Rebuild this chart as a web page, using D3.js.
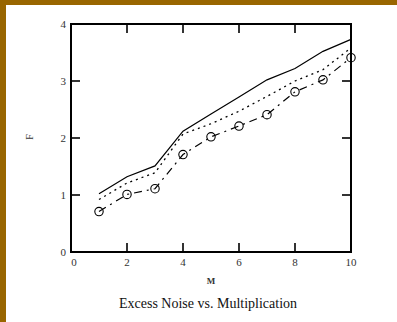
<!doctype html>
<html>
  <head>
    <meta charset="utf-8">
    <title>Excess Noise vs. Multiplication</title>
    <script src="https://cdnjs.cloudflare.com/ajax/libs/d3/7.8.5/d3.min.js"></script>
    <style>
      html, body { margin: 0; padding: 0; background: #fff; }
      svg { display: block; font-family: "Liberation Serif", "Times New Roman", serif; }
    </style>
  </head>
  <body>
    <div id="chart"></div>
    <script>
      // values
      const M = [1, 2, 3, 4, 5, 6, 7, 8, 9, 10];
      const solidF = [1.02, 1.32, 1.51, 2.12, 2.42, 2.72, 3.02, 3.22, 3.52, 3.73];
      const dottedF = [0.92, 1.21, 1.39, 2.07, 2.25, 2.47, 2.73, 3.0, 3.2, 3.58];
      const circleF = [0.71, 1.01, 1.11, 1.71, 2.02, 2.21, 2.41, 2.81, 3.02, 3.41];
      const xTicks = [0, 2, 4, 6, 8, 10];
      const yTicks = [0, 1, 2, 3, 4];

      const W = 397, H = 322;
      const svg = d3.select('#chart').append('svg')
        .attr('width', W)
        .attr('height', H);

      // brown border on top and left
      svg.append('rect').attr('x', 0).attr('y', 0).attr('width', W).attr('height', 5).attr('fill', '#996600');
      svg.append('rect').attr('x', 0).attr('y', 0).attr('width', 6).attr('height', H).attr('fill', '#996600');

      const x = d3.scaleLinear().domain([0, 10]).range([71, 351]);
      const y = d3.scaleLinear().domain([0, 4]).range([252, 24]);

      // inner ticks on all four sides
      const tickLen = 9;
      const ticks = svg.append('g').attr('stroke', '#333').attr('stroke-width', 2);
      xTicks.slice(1, -1).forEach(v => {
        ticks.append('line').attr('x1', x(v)).attr('x2', x(v)).attr('y1', y(0)).attr('y2', y(0) - tickLen);
        ticks.append('line').attr('x1', x(v)).attr('x2', x(v)).attr('y1', y(4)).attr('y2', y(4) + tickLen);
      });
      yTicks.slice(1, -1).forEach(v => {
        ticks.append('line').attr('x1', x(0)).attr('x2', x(0) + tickLen).attr('y1', y(v)).attr('y2', y(v));
        ticks.append('line').attr('x1', x(10)).attr('x2', x(10) - tickLen).attr('y1', y(v)).attr('y2', y(v));
      });

      // frame
      svg.append('rect')
        .attr('x', x(0)).attr('y', y(4))
        .attr('width', x(10) - x(0)).attr('height', y(0) - y(4))
        .attr('fill', 'none').attr('stroke', '#000').attr('stroke-width', 2);

      // tick labels
      svg.append('g').selectAll('text').data(xTicks).join('text')
        .attr('x', d => x(d) + (d === 0 ? 3 : 0))
        .attr('y', 266)
        .attr('text-anchor', 'middle')
        .attr('font-size', 11)
        .attr('fill', '#333')
        .text(d => d);
      svg.append('g').selectAll('text').data(yTicks).join('text')
        .attr('x', 66)
        .attr('y', d => y(d) + 4)
        .attr('text-anchor', 'end')
        .attr('font-size', 11)
        .attr('fill', '#333')
        .text(d => d);

      // axis titles
      svg.append('text')
        .attr('transform', 'translate(33,137) rotate(-90)')
        .attr('text-anchor', 'middle')
        .attr('font-size', 10)
        .attr('fill', '#333')
        .text('F');
      svg.append('text')
        .attr('x', 211).attr('y', 284)
        .attr('text-anchor', 'middle')
        .attr('font-size', 9)
        .attr('font-weight', 'bold')
        .attr('fill', '#333')
        .text('M');

      svg.append('text')
        .attr('x', 208).attr('y', 308)
        .attr('text-anchor', 'middle')
        .attr('font-size', 14)
        .attr('fill', '#111')
        .text('Excess Noise vs. Multiplication');

      // series
      const line = d3.line().x((d, i) => x(M[i])).y(d => y(d));
      svg.append('path').datum(solidF)
        .attr('d', line).attr('fill', 'none').attr('stroke', '#000').attr('stroke-width', 1.2);
      svg.append('path').datum(dottedF)
        .attr('d', line).attr('fill', 'none').attr('stroke', '#000').attr('stroke-width', 1.3)
        .attr('stroke-dasharray', '2,4');
      svg.append('path').datum(circleF)
        .attr('d', line).attr('fill', 'none').attr('stroke', '#000').attr('stroke-width', 1.2)
        .attr('stroke-dasharray', '8,5,2,5');
      svg.append('g').selectAll('circle').data(circleF).join('circle')
        .attr('cx', (d, i) => x(M[i]))
        .attr('cy', d => y(d))
        .attr('r', 4.2)
        .attr('fill', 'none')
        .attr('stroke', '#000')
        .attr('stroke-width', 1.1);
    </script>
  </body>
</html>
